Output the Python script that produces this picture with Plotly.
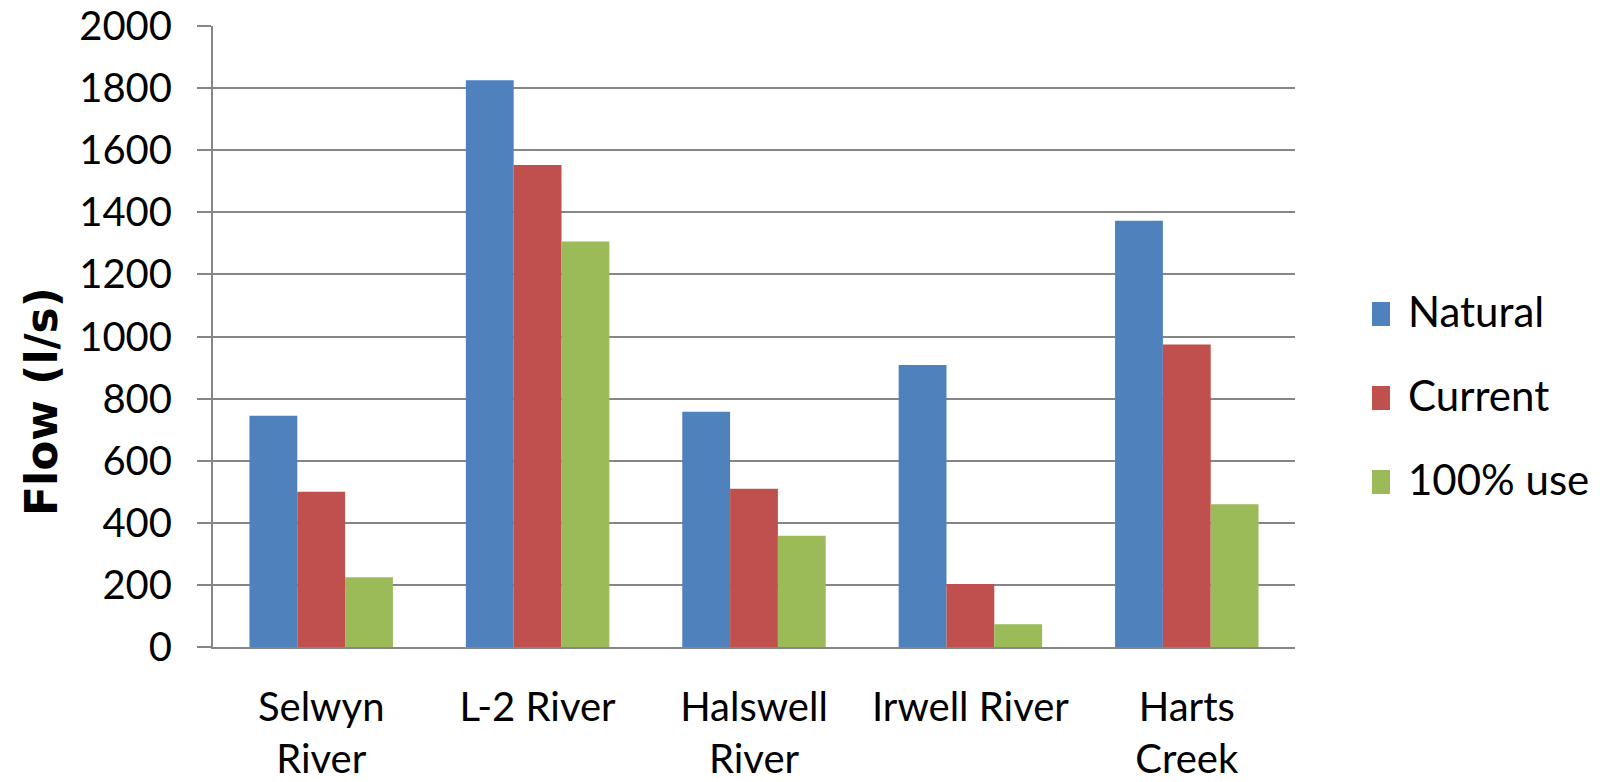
import plotly.graph_objects as go

# Flow per river under three water-use scenarios
rivers = ["Selwyn<br>River", "L-2 River", "Halswell<br>River", "Irwell River", "Harts<br>Creek"]
natural = [745, 1825, 758, 908, 1373]
current = [500, 1552, 510, 203, 974]
full_use = [225, 1306, 358, 73, 460]

series_names = ["Natural", "Current", "100% use"]
series_values = [natural, current, full_use]
series_colors = ["#4F81BD", "#C0504D", "#9BBB59"]
y_ticks = list(range(0, 2001, 200))
y_title = "Flow (l/s)"

W, H = 1605, 782
L, R, T, B = 213, 310, 26, 135
FONT = "Lato"
GRID = "#868686"


def px_x(p):
    return (p - L) / (W - L - R)


def px_y(p):
    return (H - B - p) / (H - T - B)


fig = go.Figure()
for name, vals, col in zip(series_names, series_values, series_colors):
    fig.add_trace(go.Bar(
        x=rivers, y=vals, name=name,
        marker=dict(color=col, line=dict(width=0)),
        showlegend=False,
    ))

# Legend drawn as swatches + labels on the right
legend_rows = [314, 398, 482]
shapes = []
annotations = []
for name, col, yc in zip(series_names, series_colors, legend_rows):
    shapes.append(dict(
        type="rect", xref="paper", yref="paper",
        x0=px_x(1372), x1=px_x(1390), y0=px_y(yc + 12), y1=px_y(yc - 12),
        fillcolor=col, line=dict(width=0),
    ))
    annotations.append(dict(
        text=name, xref="paper", yref="paper",
        x=px_x(1406), y=px_y(yc - 3), xanchor="left", yanchor="middle",
        showarrow=False, font=dict(family=FONT, size=42, color="#000000"),
    ))

# Rotated y-axis title
annotations.append(dict(
    text="<b>%s</b>" % y_title, xref="paper", yref="paper",
    x=px_x(41), y=px_y(401), xanchor="center", yanchor="middle",
    textangle=-90, showarrow=False,
    font=dict(family="DejaVu Sans", size=44, color="#000000"),
))

fig.update_layout(
    width=W, height=H,
    margin=dict(l=L, r=R, t=T, b=B, pad=0),
    paper_bgcolor="white", plot_bgcolor="white",
    barmode="group", bargap=0.337, bargroupgap=0,
    font=dict(family=FONT, size=40, color="#000000"),
    shapes=shapes, annotations=annotations,
    showlegend=False,
)
fig.update_xaxes(
    automargin=False,
    showline=True, linecolor=GRID, linewidth=2,
    ticks="", showgrid=False,
    tickfont=dict(family=FONT, size=40),
    ticklabelstandoff=24,
)
fig.update_yaxes(
    automargin=False,
    range=[0, 2000], tickvals=y_ticks,
    showline=True, linecolor=GRID, linewidth=2,
    ticks="outside", ticklen=14, tickwidth=2, tickcolor=GRID,
    showgrid=True, gridcolor=GRID, gridwidth=2,
    zeroline=False,
    tickfont=dict(family=FONT, size=40),
    ticklabelstandoff=17,
)

fig.write_html("out.html")
